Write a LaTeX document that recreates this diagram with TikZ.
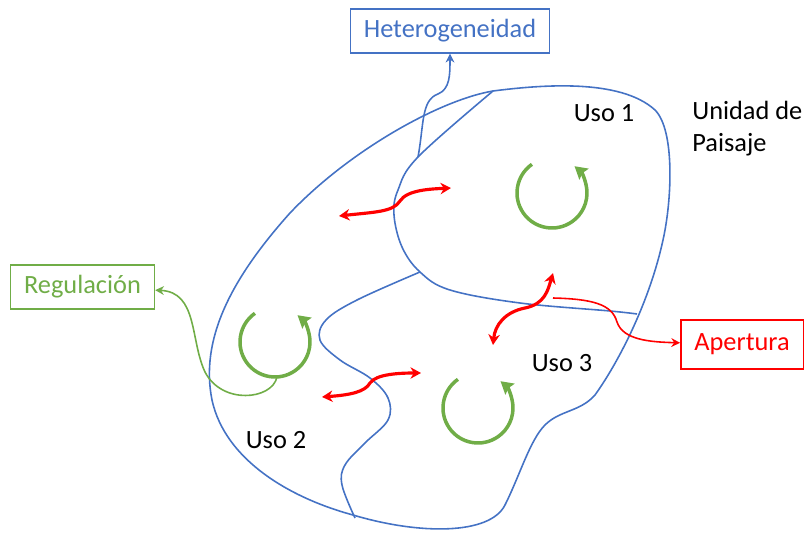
\documentclass[tikz,border=0pt]{standalone}
\usepackage{fontspec}
\setmainfont{Carlito}
\usepackage{tikz}
\usetikzlibrary{arrows.meta}
\definecolor{usoblue}{HTML}{4472C4}
\definecolor{usogreen}{HTML}{70AD47}
\definecolor{usored}{HTML}{FF0000}

\begin{document}
\begin{tikzpicture}[
    x=0.02cm, y=-0.02cm,
    box/.style={rectangle, draw, line width=0.8pt, inner xsep=7.7pt,
                minimum height=0.88cm, font=\fontsize{15}{18}\selectfont},
    lbl/.style={inner sep=0pt, font=\fontsize{15}{18.2}\selectfont, align=left},
    edge/.style={usoblue, line width=0.9pt},
    link/.style={line width=0.9pt, -{Stealth[length=5pt,width=5pt]}},
    flow/.style={usored, line width=1.8pt,
                 {Stealth[length=6pt,width=6.5pt]}-{Stealth[length=6pt,width=6.5pt]}},
    turn/.style={usogreen, line width=2pt, -{Stealth[length=7pt,width=8pt,inset=1pt]}}
]
\useasboundingbox (0,0) rectangle (805,533);

% landscape unit and the borders between its uses
\draw[edge] (493,91) .. controls (540,85) and (620,78) .. (655,110)
    .. controls (675,130) and (672,200) .. (663,240)
    .. controls (650,300) and (620,360) .. (595,395)
    .. controls (580,412) and (560,410) .. (545,425)
    .. controls (530,440) and (520,475) .. (505,505)
    .. controls (490,535) and (420,535) .. (353,515)
    .. controls (290,498) and (225,460) .. (212,400)
    .. controls (200,340) and (230,280) .. (290,213)
    .. controls (350,150) and (440,100) .. (493,91) -- cycle;
\draw[edge] plot[smooth, tension=0.6] coordinates {
    (493,91) (418,157) (398,190) (394,215) (402,247) (420,272) (450,290)
    (520,303) (610,311) (637,314)};
\draw[edge] plot[smooth, tension=0.6] coordinates {
    (420,272) (357,300) (326,320) (320,340) (340,360) (370,378) (388,398)
    (388,420) (365,443) (345,465) (342,485) (355,518)};

\node[box, usoblue] (het) at (450,31) {Heterogeneidad};
\node[box, usogreen] (reg) at (82.5,287) {Regulación};
\node[box, usored, minimum height=0.98cm] (ape) at (742,344.5) {Apertura};

\node[lbl] (uso1) at (604,113) {Uso 1};
\node[lbl] (uso2) at (276,440) {Uso 2};
\node[lbl] (uso3) at (562,363) {Uso 3};
\node[lbl, anchor=west] (unidad) at (692,129) {Unidad de\\Paisaje};

\coordinate (c1) at (552,193);
\coordinate (c2) at (275,342);
\coordinate (c3) at (478,408);
\draw[turn] (c1) ++(125:0.7cm) arc[start angle=125, end angle=410, radius=0.7cm];
\draw[turn] (c2) ++(125:0.7cm) arc[start angle=125, end angle=410, radius=0.7cm];
\draw[turn] (c3) ++(125:0.7cm) arc[start angle=125, end angle=410, radius=0.7cm];

\coordinate (hsrc) at (418,157);
\coordinate (rsrc) at (277,377);
\coordinate (asrc) at (553,298);
\draw[link, usoblue] (hsrc) .. controls (424,125) and (421,100) .. (438,94)
    .. controls (450,89) and (450,75) .. (het);
\draw[link, usogreen] (rsrc) .. controls (272,400) and (222,405) .. (205,372)
    .. controls (190,340) and (198,292) .. (reg);
\draw[link, usored] (asrc) .. controls (592,299) and (612,304) .. (617,322)
    .. controls (623,340) and (650,342) .. (ape);

\coordinate (fa1) at (339,216);
\coordinate (fa2) at (451,188);
\coordinate (fb1) at (322,397);
\coordinate (fb2) at (421,373);
\coordinate (fc1) at (493,345);
\coordinate (fc2) at (553,273);
\draw[flow] (fa1) .. controls (375,212) and (393,212) .. (400,201)
    .. controls (407,190) and (430,189) .. (fa2);
\draw[flow] (fb1) .. controls (350,395) and (365,392) .. (370,383)
    .. controls (376,374) and (400,373) .. (fb2);
\draw[flow] (fc1) .. controls (495,325) and (505,312) .. (525,308)
    .. controls (545,304) and (548,290) .. (fc2);
\end{tikzpicture}
\end{document}
